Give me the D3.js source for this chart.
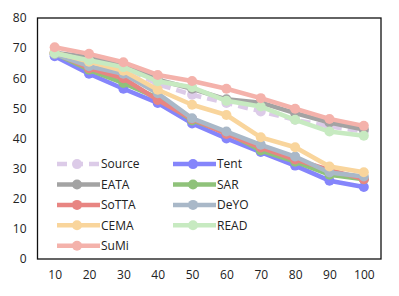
<!DOCTYPE html>
<html>
<head>
<meta charset="utf-8">
<script src="https://cdn.jsdelivr.net/npm/d3@7"></script>
<style>
	body { margin: 0; background: #fff; }
	svg text { font-family: "Open Sans", sans-serif; fill: #222; }
</style>
</head>
<body>
<div id="chart"></div>
<script>
// values
const ratios = [10, 20, 30, 40, 50, 60, 70, 80, 90, 100];
const yTicks = [0, 10, 20, 30, 40, 50, 60, 70, 80];

const source = [68.0, 66.5, 64.0, 58.0, 54.5, 51.8, 49.0, 46.2, 44.0, 42.3];
const tent   = [67.3, 61.5, 56.5, 51.8, 45.0, 40.0, 35.5, 31.0, 26.0, 23.9];
const eata   = [68.5, 67.0, 64.5, 59.5, 56.5, 53.0, 51.9, 48.4, 45.3, 43.0];
const sar    = [68.2, 62.8, 58.4, 53.5, 46.0, 42.0, 36.0, 32.3, 28.0, 26.5];
const sotta  = [68.5, 63.3, 60.0, 52.8, 46.5, 41.5, 37.0, 33.0, 29.6, 26.5];
const deyo   = [68.0, 64.0, 61.5, 55.0, 46.7, 42.3, 37.9, 34.0, 28.7, 27.4];
const cema   = [68.5, 65.5, 62.5, 56.2, 51.2, 47.8, 40.4, 37.1, 30.7, 28.8];
const read   = [68.3, 66.0, 63.7, 59.0, 57.0, 52.5, 50.6, 46.2, 42.3, 40.9];
const sumi   = [70.3, 68.1, 65.3, 61.1, 59.1, 56.5, 53.4, 49.9, 46.5, 44.2];

const seriesNames = ['Source', 'Tent', 'EATA', 'SAR', 'SoTTA', 'DeYO', 'CEMA', 'READ', 'SuMi'];
const seriesValues = [source, tent, eata, sar, sotta, deyo, cema, read, sumi];
const seriesColors = ['#dccbe8', '#8585fb', '#a3a3a3', '#8fc27a', '#e88582', '#a9b8c8', '#f9d59c', '#c7eac1', '#f4b2ab'];

const W = 399, H = 296;
const m = {top: 18, right: 18, bottom: 37, left: 37.5};
const iw = W - m.left - m.right, ih = H - m.top - m.bottom;

const svg = d3.select('#chart').append('svg')
	.attr('width', W)
	.attr('height', H);

const plot = svg.append('g')
	.attr('transform', 'translate(' + m.left + ',' + m.top + ')');

const xScale = d3.scalePoint()
	.domain(ratios)
	.range([0, iw])
	.padding(0.5);

const yScale = d3.scaleLinear()
	.domain([0, 80])
	.range([ih, 0]);

// axes, no tick marks, just labels
plot.append('g')
	.attr('transform', 'translate(0,' + ih + ')')
	.call(d3.axisBottom(xScale).tickSize(0).tickPadding(11))
	.call(g => g.select('.domain').remove())
	.selectAll('text')
		.style('font-size', '12px');

plot.append('g')
	.call(d3.axisLeft(yScale).tickValues(yTicks).tickSize(0).tickPadding(11))
	.call(g => g.select('.domain').remove())
	.selectAll('text')
		.style('font-size', '12px');

const line = d3.line()
	.x((d, i) => xScale(ratios[i]))
	.y(d => yScale(d));

seriesValues.forEach(function(vals, k){
	const g = plot.append('g').attr('class', 'series');
	g.append('path')
		.datum(vals)
		.attr('fill', 'none')
		.attr('stroke', seriesColors[k])
		.attr('stroke-width', 4.5)
		.attr('stroke-linejoin', 'round')
		.attr('stroke-dasharray', seriesNames[k] == 'Source' ? '10,6' : null)
		.attr('d', line);
	g.selectAll('circle')
		.data(vals)
		.enter().append('circle')
		.attr('cx', (d, i) => xScale(ratios[i]))
		.attr('cy', d => yScale(d))
		.attr('r', 5)
		.attr('fill', seriesColors[k]);
});

// legend, two columns
const legend = plot.append('g').attr('class', 'legend');
seriesNames.forEach(function(name, i){
	const col = i % 2, row = Math.floor(i / 2);
	const lx = 19.5 + col * 116;
	const ly = yScale(31.5) - row * 0 + row * 20.4;
	const item = legend.append('g').attr('transform', 'translate(' + lx + ',' + ly + ')');
	item.append('line')
		.attr('x1', 0).attr('x2', 43)
		.attr('stroke', seriesColors[i])
		.attr('stroke-width', 4.5)
		.attr('stroke-dasharray', name == 'Source' ? '10,6' : null);
	item.append('circle')
		.attr('cx', 20).attr('r', 5)
		.attr('fill', seriesColors[i]);
	item.append('text')
		.attr('x', 44)
		.attr('dy', '0.35em')
		.style('font-size', '12px')
		.text(name);
});

// plot frame
plot.append('rect')
	.attr('width', iw)
	.attr('height', ih)
	.attr('fill', 'none')
	.attr('stroke', '#111')
	.attr('stroke-width', 1.3);
</script>
</body>
</html>
